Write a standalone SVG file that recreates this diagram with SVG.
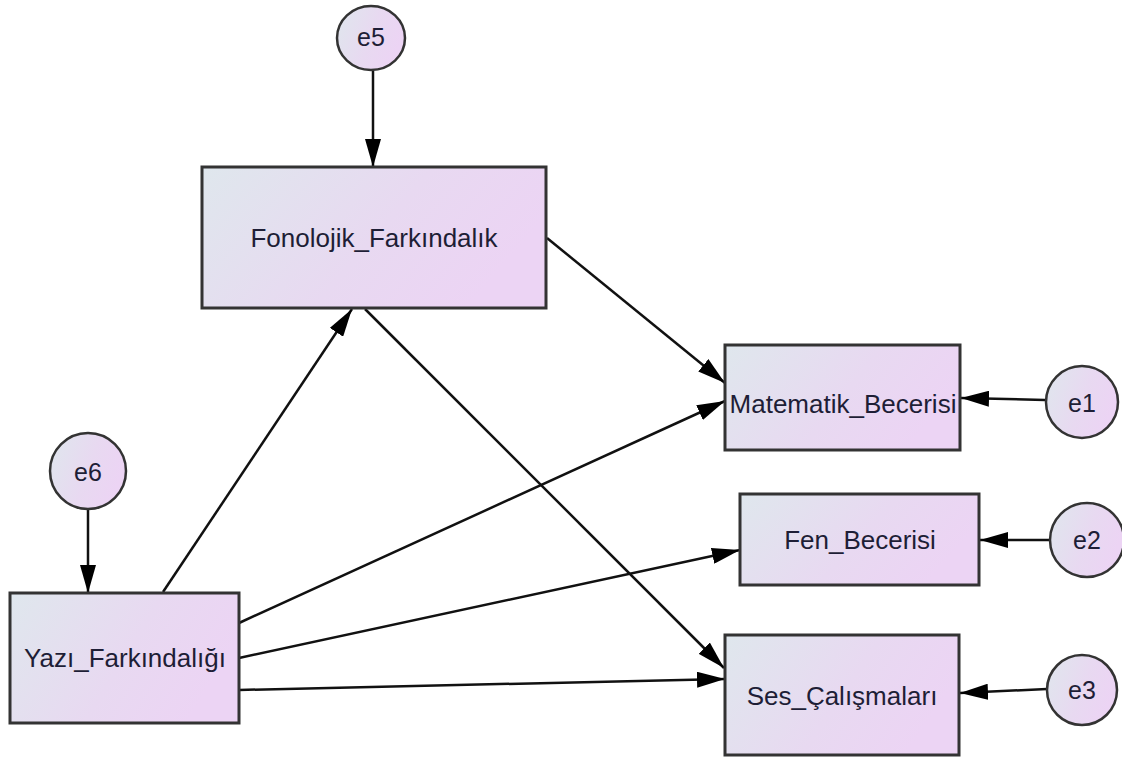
<svg xmlns="http://www.w3.org/2000/svg" width="1122" height="760" viewBox="0 0 1122 760">
  <defs>
    <linearGradient id="g" x1="0" y1="0" x2="1" y2="0.35">
      <stop offset="0" stop-color="#dfe7ed"/>
      <stop offset="0.6" stop-color="#e8d9f1"/>
      <stop offset="1" stop-color="#ecd4f4"/>
    </linearGradient>
    <marker id="ah" viewBox="0 0 28 16" refX="28" refY="8" markerWidth="28" markerHeight="16" markerUnits="userSpaceOnUse" orient="auto">
      <path d="M0,0 L28,8 L0,16 Z" fill="#000"/>
    </marker>
  </defs>
  <style>
    .box { fill: url(#g); stroke: #333; stroke-width: 3; }
    .err { fill: url(#g); stroke: #333; stroke-width: 2.5; }
    .lbl { font-family: "Liberation Sans", Arial, sans-serif; font-size: 26px; fill: #1e1e36; text-anchor: middle; }
    .elbl { font-family: "Liberation Sans", Arial, sans-serif; font-size: 25px; fill: #1e1e36; text-anchor: middle; }
    .c { stroke: #111; stroke-width: 2.5; fill: none; marker-end: url(#ah); }
  </style>
  <rect width="1122" height="760" fill="#fff"/>

  <g id="connectors">
    <line class="c" x1="373" y1="71" x2="373" y2="167"/>
    <line class="c" x1="88" y1="510" x2="88" y2="593"/>
    <line class="c" x1="1045" y1="400" x2="961" y2="398"/>
    <line class="c" x1="1050" y1="540" x2="980" y2="540"/>
    <line class="c" x1="1047" y1="689" x2="960" y2="693"/>
    <line class="c" x1="547" y1="238" x2="725" y2="383"/>
    <line class="c" x1="365" y1="309" x2="724" y2="668"/>
    <line class="c" x1="163" y1="592" x2="352" y2="309"/>
    <line class="c" x1="239" y1="623" x2="725" y2="401"/>
    <line class="c" x1="239" y1="658" x2="740" y2="550"/>
    <line class="c" x1="239" y1="690" x2="725" y2="679"/>
  </g>

  <g id="node-fonolojik">
    <rect class="box" x="202" y="167" width="344" height="141"/>
    <text class="lbl" x="374" y="247">Fonolojik_Farkındalık</text>
  </g>
  <g id="node-yazi">
    <rect class="box" x="10" y="593" width="229" height="130"/>
    <text class="lbl" x="125" y="667">Yazı_Farkındalığı</text>
  </g>
  <g id="node-matematik">
    <rect class="box" x="725" y="345" width="235" height="105"/>
    <text class="lbl" x="843" y="413">Matematik_Becerisi</text>
  </g>
  <g id="node-fen">
    <rect class="box" x="740" y="494" width="239" height="91"/>
    <text class="lbl" x="860" y="549">Fen_Becerisi</text>
  </g>
  <g id="node-ses">
    <rect class="box" x="725" y="635" width="234" height="120"/>
    <text class="lbl" x="842" y="705">Ses_Çalışmaları</text>
  </g>

  <g id="node-e5">
    <ellipse class="err" cx="371" cy="38" rx="34" ry="32"/>
    <text class="elbl" x="371" y="46">e5</text>
  </g>
  <g id="node-e6">
    <circle class="err" cx="88" cy="471" r="38"/>
    <text class="elbl" x="88" y="481">e6</text>
  </g>
  <g id="node-e1">
    <circle class="err" cx="1082" cy="402" r="36"/>
    <text class="elbl" x="1082" y="412">e1</text>
  </g>
  <g id="node-e2">
    <circle class="err" cx="1087" cy="540" r="37"/>
    <text class="elbl" x="1087" y="549">e2</text>
  </g>
  <g id="node-e3">
    <circle class="err" cx="1082" cy="690" r="35"/>
    <text class="elbl" x="1082" y="699">e3</text>
  </g>
</svg>
